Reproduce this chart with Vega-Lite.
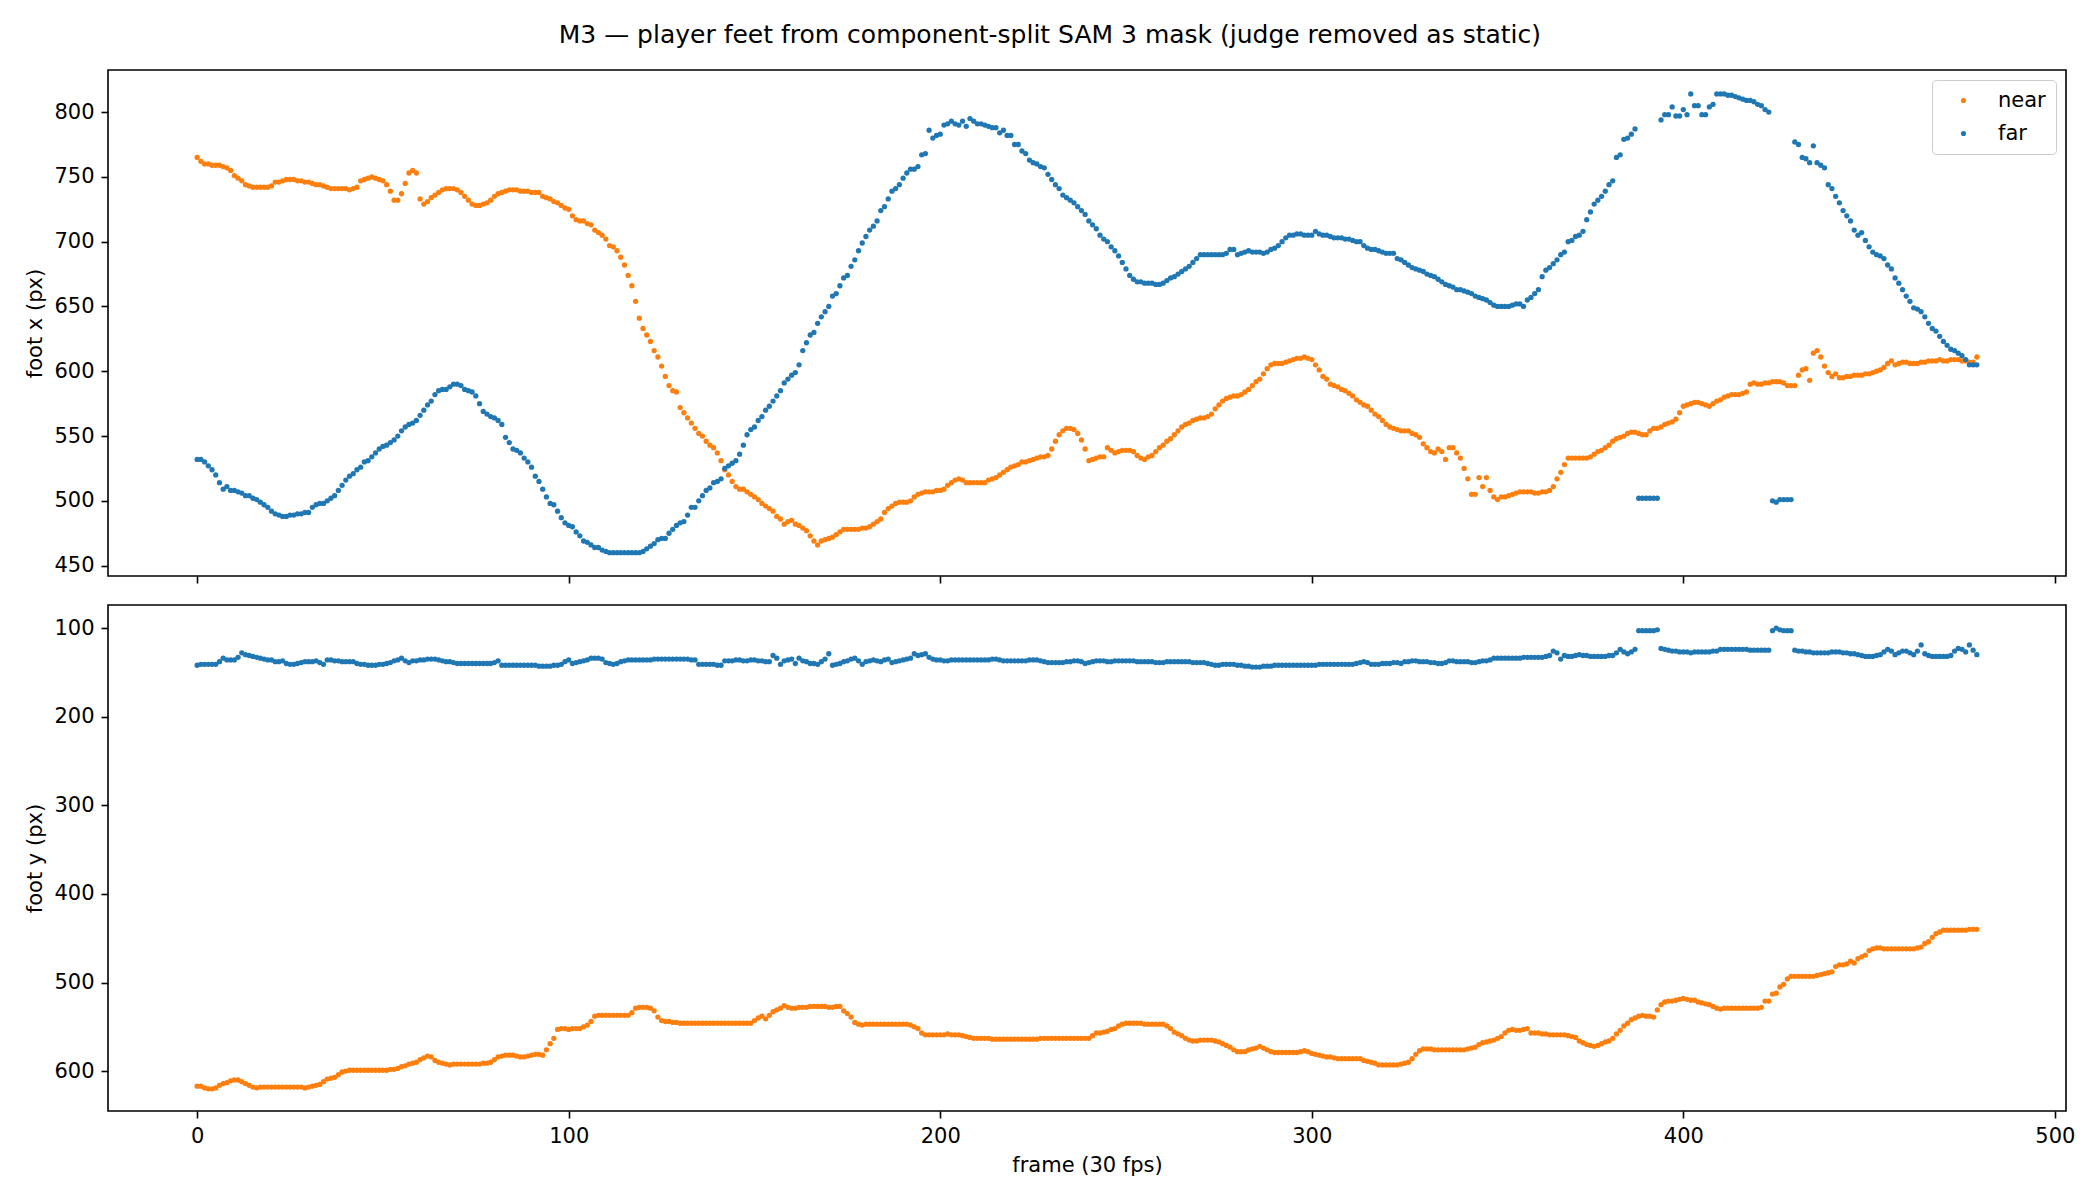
{
"$schema": "https://vega.github.io/schema/vega-lite/v6.json",
"padding": {"left": 24, "top": 23, "right": 34, "bottom": 10},
"title": {"text": "M3 — player feet from component-split SAM 3 mask (judge removed as static)", "fontSize": 25, "fontWeight": "normal", "color": "black", "anchor": "middle", "offset": 21},
"config": {
  "font": "DejaVu Sans",
  "view": {"stroke": "black", "strokeWidth": 1.6},
  "axis": {"grid": false, "domain": false, "tickColor": "black", "tickWidth": 1.6, "tickSize": 7, "labelPadding": 7, "labelFontSize": 21, "labelColor": "black", "titleFontSize": 21, "titleColor": "black", "titleFontWeight": "normal", "titlePadding": 8}
},
"spacing": 19,
"resolve": {"scale": {"color": "independent"}, "legend": {"color": "independent"}},
"datasets": {
"footx": [
{"f":0,"near":765,"far":532},{"f":1,"near":762,"far":532},{"f":2,"near":760,"far":530},{"f":3,"near":760,"far":527},{"f":4,"near":759,"far":524},{"f":5,"near":759,"far":520},{"f":6,"near":759,"far":514},{"f":7,"near":758,"far":509},{"f":8,"near":757,"far":511},{"f":9,"near":755,"far":508},
{"f":10,"near":751,"far":508},{"f":11,"near":749,"far":507},{"f":12,"near":747,"far":506},{"f":13,"near":744,"far":504},{"f":14,"near":743,"far":504},{"f":15,"near":742,"far":502},{"f":16,"near":742,"far":501},{"f":17,"near":742,"far":499},{"f":18,"near":742,"far":497},{"f":19,"near":742,"far":495},
{"f":20,"near":743,"far":492},{"f":21,"near":746,"far":490},{"f":22,"near":746,"far":489},{"f":23,"near":747,"far":488},{"f":24,"near":748,"far":488},{"f":25,"near":748,"far":489},{"f":26,"near":748,"far":489},{"f":27,"near":747,"far":490},{"f":28,"near":747,"far":490},{"f":29,"near":746,"far":491},
{"f":30,"near":746,"far":491},{"f":31,"near":745,"far":495},{"f":32,"near":744,"far":497},{"f":33,"near":744,"far":498},{"f":34,"near":743,"far":498},{"f":35,"near":742,"far":500},{"f":36,"near":741,"far":502},{"f":37,"near":741,"far":504},{"f":38,"near":741,"far":508},{"f":39,"near":741,"far":512},
{"f":40,"near":741,"far":516},{"f":41,"near":740,"far":519},{"f":42,"near":741,"far":521},{"f":43,"near":742,"far":524},{"f":44,"near":747,"far":526},{"f":45,"near":748,"far":530},{"f":46,"near":749,"far":531},{"f":47,"near":750,"far":534},{"f":48,"near":749,"far":537},{"f":49,"near":748,"far":540},
{"f":50,"near":747,"far":542},{"f":51,"near":744,"far":543},{"f":52,"near":739,"far":545},{"f":53,"near":732,"far":547},{"f":54,"near":732,"far":550},{"f":55,"near":737,"far":554},{"f":56,"near":745,"far":557},{"f":57,"near":753,"far":559},{"f":58,"near":755,"far":560},{"f":59,"near":753,"far":562},
{"f":60,"near":733,"far":566},{"f":61,"near":729,"far":570},{"f":62,"near":731,"far":574},{"f":63,"near":734,"far":577},{"f":64,"near":736,"far":582},{"f":65,"near":738,"far":585},{"f":66,"near":740,"far":586},{"f":67,"near":741,"far":586},{"f":68,"near":741,"far":588},{"f":69,"near":741,"far":590},
{"f":70,"near":740,"far":590},{"f":71,"near":738,"far":589},{"f":72,"near":735,"far":586},{"f":73,"near":732,"far":585},{"f":74,"near":729,"far":584},{"f":75,"near":728,"far":581},{"f":76,"near":728,"far":575},{"f":77,"near":729,"far":569},{"f":78,"near":730,"far":567},{"f":79,"near":732,"far":565},
{"f":80,"near":735,"far":564},{"f":81,"near":737,"far":562},{"f":82,"near":738,"far":559},{"f":83,"near":739,"far":549},{"f":84,"near":740,"far":545},{"f":85,"near":740,"far":540},{"f":86,"near":740,"far":539},{"f":87,"near":739,"far":537},{"f":88,"near":739,"far":533},{"f":89,"near":739,"far":530},
{"f":90,"near":738,"far":526},{"f":91,"near":738,"far":519},{"f":92,"near":738,"far":515},{"f":93,"near":735,"far":509},{"f":94,"near":734,"far":503},{"f":95,"near":733,"far":498},{"f":96,"near":731,"far":497},{"f":97,"near":730,"far":492},{"f":98,"near":728,"far":487},{"f":99,"near":726,"far":483},
{"f":100,"near":725,"far":481},{"f":101,"near":720,"far":480},{"f":102,"near":717,"far":476},{"f":103,"near":716,"far":473},{"f":104,"near":716,"far":469},{"f":105,"near":714,"far":468},{"f":106,"near":713,"far":466},{"f":107,"near":709,"far":464},{"f":108,"near":707,"far":464},{"f":109,"near":705,"far":462},
{"f":110,"near":702,"far":461},{"f":111,"near":697,"far":460},{"f":112,"near":696,"far":460},{"f":113,"near":693,"far":460},{"f":114,"near":688,"far":460},{"f":115,"near":682,"far":460},{"f":116,"near":674,"far":460},{"f":117,"near":666,"far":460},{"f":118,"near":654,"far":460},{"f":119,"near":641,"far":460},
{"f":120,"near":633,"far":461},{"f":121,"near":628,"far":463},{"f":122,"near":623,"far":465},{"f":123,"near":616,"far":467},{"f":124,"near":611,"far":470},{"f":125,"near":604,"far":471},{"f":126,"near":596,"far":471},{"f":127,"near":589,"far":475},{"f":128,"near":585,"far":478},{"f":129,"near":584,"far":481},
{"f":130,"near":572,"far":483},{"f":131,"near":568,"far":484},{"f":132,"near":564,"far":489},{"f":133,"near":560,"far":495},{"f":134,"near":556,"far":495},{"f":135,"near":552,"far":500},{"f":136,"near":550,"far":504},{"f":137,"near":546,"far":508},{"f":138,"near":543,"far":510},{"f":139,"near":541,"far":514},
{"f":140,"near":537,"far":515},{"f":141,"near":531,"far":517},{"f":142,"near":524,"far":525},{"f":143,"near":520,"far":527},{"f":144,"near":515,"far":529},{"f":145,"near":511,"far":531},{"f":146,"near":509,"far":536},{"f":147,"near":509,"far":543},{"f":148,"near":507,"far":551},{"f":149,"near":505,"far":555},
{"f":150,"near":503,"far":557},{"f":151,"near":501,"far":562},{"f":152,"near":498,"far":565},{"f":153,"near":496,"far":570},{"f":154,"near":494,"far":573},{"f":155,"near":492,"far":577},{"f":156,"near":488,"far":581},{"f":157,"near":486,"far":585},{"f":158,"near":482,"far":591},{"f":159,"near":484,"far":594},
{"f":160,"near":485,"far":597},{"f":161,"near":482,"far":599},{"f":162,"near":481,"far":605},{"f":163,"near":479,"far":616},{"f":164,"near":477,"far":622},{"f":165,"near":473,"far":628},{"f":166,"near":469,"far":630},{"f":167,"near":466,"far":637},{"f":168,"near":469,"far":642},{"f":169,"near":470,"far":646},
{"f":170,"near":471,"far":650},{"f":171,"near":472,"far":658},{"f":172,"near":474,"far":660},{"f":173,"near":476,"far":666},{"f":174,"near":478,"far":672},{"f":175,"near":478,"far":674},{"f":176,"near":478,"far":681},{"f":177,"near":478,"far":686},{"f":178,"near":478,"far":693},{"f":179,"near":479,"far":699},
{"f":180,"near":479,"far":704},{"f":181,"near":480,"far":709},{"f":182,"near":482,"far":712},{"f":183,"near":484,"far":716},{"f":184,"near":486,"far":724},{"f":185,"near":491,"far":727},{"f":186,"near":494,"far":733},{"f":187,"near":496,"far":739},{"f":188,"near":498,"far":741},{"f":189,"near":499,"far":744},
{"f":190,"near":499,"far":749},{"f":191,"near":499,"far":753},{"f":192,"near":500,"far":756},{"f":193,"near":503,"far":756},{"f":194,"near":505,"far":758},{"f":195,"near":506,"far":767},{"f":196,"near":507,"far":768},{"f":197,"near":507,"far":786},{"f":198,"near":507,"far":780},{"f":199,"near":508,"far":782},
{"f":200,"near":508,"far":783},{"f":201,"near":509,"far":790},{"f":202,"near":512,"far":791},{"f":203,"near":514,"far":793},{"f":204,"near":516,"far":791},{"f":205,"near":517,"far":790},{"f":206,"near":516,"far":793},{"f":207,"near":514,"far":789},{"f":208,"near":514,"far":795},{"f":209,"near":514,"far":793},
{"f":210,"near":514,"far":791},{"f":211,"near":514,"far":791},{"f":212,"near":514,"far":790},{"f":213,"near":516,"far":789},{"f":214,"near":517,"far":788},{"f":215,"near":518,"far":788},{"f":216,"near":520,"far":784},{"f":217,"near":522,"far":786},{"f":218,"near":524,"far":782},{"f":219,"near":526,"far":782},
{"f":220,"near":527,"far":775},{"f":221,"near":528,"far":775},{"f":222,"near":530,"far":770},{"f":223,"near":530,"far":768},{"f":224,"near":531,"far":763},{"f":225,"near":532,"far":761},{"f":226,"near":533,"far":760},{"f":227,"near":534,"far":758},{"f":228,"near":534,"far":757},{"f":229,"near":535,"far":752},
{"f":230,"near":540,"far":748},{"f":231,"near":546,"far":744},{"f":232,"near":551,"far":741},{"f":233,"near":554,"far":736},{"f":234,"near":556,"far":734},{"f":235,"near":556,"far":732},{"f":236,"near":555,"far":730},{"f":237,"near":552,"far":727},{"f":238,"near":547,"far":724},{"f":239,"near":540,"far":721},
{"f":240,"near":531,"far":716},{"f":241,"near":532,"far":713},{"f":242,"near":533,"far":710},{"f":243,"near":534,"far":705},{"f":244,"near":534,"far":702},{"f":245,"near":541,"far":700},{"f":246,"near":539,"far":696},{"f":247,"near":537,"far":693},{"f":248,"near":538,"far":689},{"f":249,"near":539,"far":684},
{"f":250,"near":539,"far":679},{"f":251,"near":539,"far":674},{"f":252,"near":538,"far":671},{"f":253,"near":535,"far":669},{"f":254,"near":533,"far":669},{"f":255,"near":532,"far":668},{"f":256,"near":534,"far":668},{"f":257,"near":535,"far":668},{"f":258,"near":538,"far":667},{"f":259,"near":541,"far":667},
{"f":260,"near":543,"far":668},{"f":261,"near":546,"far":670},{"f":262,"near":548,"far":672},{"f":263,"near":551,"far":673},{"f":264,"near":554,"far":675},{"f":265,"near":557,"far":677},{"f":266,"near":559,"far":679},{"f":267,"near":560,"far":681},{"f":268,"near":562,"far":684},{"f":269,"near":563,"far":687},
{"f":270,"near":564,"far":690},{"f":271,"near":564,"far":690},{"f":272,"near":565,"far":690},{"f":273,"near":567,"far":690},{"f":274,"near":571,"far":690},{"f":275,"near":574,"far":690},{"f":276,"near":577,"far":690},{"f":277,"near":579,"far":691},{"f":278,"near":580,"far":694},{"f":279,"near":581,"far":694},
{"f":280,"near":581,"far":690},{"f":281,"near":582,"far":691},{"f":282,"near":584,"far":692},{"f":283,"near":586,"far":693},{"f":284,"near":589,"far":692},{"f":285,"near":592,"far":692},{"f":286,"near":594,"far":692},{"f":287,"near":598,"far":691},{"f":288,"near":602,"far":692},{"f":289,"near":605,"far":694},
{"f":290,"near":606,"far":695},{"f":291,"near":606,"far":697},{"f":292,"near":606,"far":700},{"f":293,"near":607,"far":703},{"f":294,"near":608,"far":705},{"f":295,"near":609,"far":705},{"f":296,"near":610,"far":706},{"f":297,"near":610,"far":706},{"f":298,"near":611,"far":705},{"f":299,"near":610,"far":705},
{"f":300,"near":609,"far":705},{"f":301,"near":605,"far":708},{"f":302,"near":601,"far":706},{"f":303,"near":596,"far":705},{"f":304,"near":594,"far":705},{"f":305,"near":590,"far":704},{"f":306,"near":589,"far":703},{"f":307,"near":588,"far":703},{"f":308,"near":586,"far":703},{"f":309,"near":585,"far":702},
{"f":310,"near":583,"far":702},{"f":311,"near":581,"far":701},{"f":312,"near":578,"far":700},{"f":313,"near":576,"far":700},{"f":314,"near":574,"far":697},{"f":315,"near":573,"far":695},{"f":316,"near":570,"far":694},{"f":317,"near":567,"far":694},{"f":318,"near":565,"far":693},{"f":319,"near":562,"far":692},
{"f":320,"near":559,"far":691},{"f":321,"near":557,"far":691},{"f":322,"near":556,"far":691},{"f":323,"near":555,"far":687},{"f":324,"near":554,"far":686},{"f":325,"near":554,"far":684},{"f":326,"near":554,"far":682},{"f":327,"near":552,"far":680},{"f":328,"near":551,"far":679},{"f":329,"near":549,"far":678},
{"f":330,"near":544,"far":677},{"f":331,"near":541,"far":675},{"f":332,"near":538,"far":674},{"f":333,"near":537,"far":673},{"f":334,"near":540,"far":671},{"f":335,"near":538,"far":669},{"f":336,"near":532,"far":667},{"f":337,"near":541,"far":666},{"f":338,"near":541,"far":665},{"f":339,"near":537,"far":663},
{"f":340,"near":533,"far":663},{"f":341,"near":525,"far":662},{"f":342,"near":517,"far":661},{"f":343,"near":505,"far":660},{"f":344,"near":505,"far":658},{"f":345,"near":518,"far":657},{"f":346,"near":511,"far":656},{"f":347,"near":518,"far":655},{"f":348,"near":508,"far":653},{"f":349,"near":503,"far":651},
{"f":350,"near":501,"far":650},{"f":351,"near":503,"far":650},{"f":352,"near":503,"far":650},{"f":353,"near":504,"far":650},{"f":354,"near":505,"far":651},{"f":355,"near":506,"far":652},{"f":356,"near":507,"far":652},{"f":357,"near":507,"far":650},{"f":358,"near":507,"far":655},{"f":359,"near":507,"far":657},
{"f":360,"near":506,"far":660},{"f":361,"near":506,"far":663},{"f":362,"near":507,"far":673},{"f":363,"near":507,"far":678},{"f":364,"near":508,"far":680},{"f":365,"near":511,"far":683},{"f":366,"near":517,"far":686},{"f":367,"near":522,"far":690},{"f":368,"near":528,"far":692},{"f":369,"near":533,"far":700},
{"f":370,"near":533,"far":701},{"f":371,"near":533,"far":704},{"f":372,"near":533,"far":705},{"f":373,"near":533,"far":708},{"f":374,"near":533,"far":717},{"f":375,"near":534,"far":723},{"f":376,"near":536,"far":729},{"f":377,"near":538,"far":732},{"f":378,"near":539,"far":735},{"f":379,"near":541,"far":739},
{"f":380,"near":543,"far":744},{"f":381,"near":546,"far":747},{"f":382,"near":548,"far":765},{"f":383,"near":549,"far":767},{"f":384,"near":550,"far":779},{"f":385,"near":552,"far":780},{"f":386,"near":553,"far":783},{"f":387,"near":553,"far":787},{"f":388,"near":552,"far":502},{"f":389,"near":551,"far":502},
{"f":390,"near":551,"far":502},{"f":391,"near":554,"far":502},{"f":392,"near":556,"far":502},{"f":393,"near":556,"far":502},{"f":394,"near":557,"far":794},{"f":395,"near":559,"far":798},{"f":396,"near":560,"far":798},{"f":397,"near":561,"far":804},{"f":398,"near":563,"far":797},{"f":399,"near":568,"far":797},
{"f":400,"near":573,"far":802},{"f":401,"near":574,"far":798},{"f":402,"near":575,"far":814},{"f":403,"near":576,"far":805},{"f":404,"near":576,"far":805},{"f":405,"near":575,"far":798},{"f":406,"near":574,"far":798},{"f":407,"near":573,"far":804},{"f":408,"near":575,"far":806},{"f":409,"near":577,"far":814},
{"f":410,"near":578,"far":814},{"f":411,"near":580,"far":814},{"f":412,"near":581,"far":813},{"f":413,"near":582,"far":813},{"f":414,"near":582,"far":812},{"f":415,"near":582,"far":811},{"f":416,"near":583,"far":810},{"f":417,"near":584,"far":809},{"f":418,"near":590,"far":809},{"f":419,"near":591,"far":808},
{"f":420,"near":590,"far":806},{"f":421,"near":590,"far":805},{"f":422,"near":591,"far":802},{"f":423,"near":591,"far":800},{"f":424,"near":592,"far":500},{"f":425,"near":592,"far":499},{"f":426,"near":592,"far":501},{"f":427,"near":591,"far":501},{"f":428,"near":589,"far":501},{"f":429,"near":589,"far":501},
{"f":430,"near":589,"far":777},{"f":431,"near":597,"far":775},{"f":432,"near":601,"far":765},{"f":433,"near":602,"far":764},{"f":434,"near":593,"far":761},{"f":435,"near":614,"far":774},{"f":436,"near":616,"far":761},{"f":437,"near":611,"far":759},{"f":438,"near":604,"far":757},{"f":439,"near":599,"far":744},
{"f":440,"near":596,"far":741},{"f":441,"near":598,"far":735},{"f":442,"near":595,"far":730},{"f":443,"near":595,"far":724},{"f":444,"near":596,"far":720},{"f":445,"near":596,"far":716},{"f":446,"near":597,"far":709},{"f":447,"near":597,"far":705},{"f":448,"near":597,"far":707},{"f":449,"near":598,"far":701},
{"f":450,"near":598,"far":696},{"f":451,"near":599,"far":692},{"f":452,"near":600,"far":690},{"f":453,"near":601,"far":689},{"f":454,"near":603,"far":687},{"f":455,"near":606,"far":682},{"f":456,"near":608,"far":679},{"f":457,"near":605,"far":672},{"f":458,"near":606,"far":668},{"f":459,"near":607,"far":663},
{"f":460,"near":607,"far":658},{"f":461,"near":606,"far":654},{"f":462,"near":606,"far":649},{"f":463,"near":606,"far":648},{"f":464,"near":607,"far":646},{"f":465,"near":607,"far":642},{"f":466,"near":608,"far":637},{"f":467,"near":608,"far":633},{"f":468,"near":608,"far":631},{"f":469,"near":609,"far":627},
{"f":470,"near":608,"far":623},{"f":471,"near":608,"far":620},{"f":472,"near":609,"far":617},{"f":473,"near":609,"far":616},{"f":474,"near":609,"far":614},{"f":475,"near":608,"far":612},{"f":476,"near":608,"far":609},{"f":477,"near":607,"far":605},{"f":478,"near":607,"far":605},{"f":479,"near":611,"far":605}
],
"footy": [
{"f":0,"near":617,"far":142},{"f":1,"near":617,"far":141},{"f":2,"near":619,"far":141},{"f":3,"near":620,"far":141},{"f":4,"near":620,"far":141},{"f":5,"near":619,"far":141},{"f":6,"near":616,"far":138},{"f":7,"near":614,"far":134},{"f":8,"near":613,"far":136},{"f":9,"near":611,"far":136},
{"f":10,"near":610,"far":136},{"f":11,"near":610,"far":133},{"f":12,"near":612,"far":128},{"f":13,"near":614,"far":130},{"f":14,"near":616,"far":131},{"f":15,"near":618,"far":132},{"f":16,"near":619,"far":133},{"f":17,"near":618,"far":134},{"f":18,"near":618,"far":135},{"f":19,"near":618,"far":136},
{"f":20,"near":618,"far":136},{"f":21,"near":618,"far":138},{"f":22,"near":618,"far":138},{"f":23,"near":618,"far":137},{"f":24,"near":618,"far":140},{"f":25,"near":618,"far":141},{"f":26,"near":618,"far":141},{"f":27,"near":618,"far":140},{"f":28,"near":618,"far":139},{"f":29,"near":619,"far":138},
{"f":30,"near":618,"far":138},{"f":31,"near":617,"far":138},{"f":32,"near":616,"far":137},{"f":33,"near":615,"far":139},{"f":34,"near":612,"far":141},{"f":35,"near":609,"far":136},{"f":36,"near":608,"far":136},{"f":37,"near":607,"far":137},{"f":38,"near":604,"far":137},{"f":39,"near":601,"far":138},
{"f":40,"near":600,"far":138},{"f":41,"near":599,"far":138},{"f":42,"near":599,"far":138},{"f":43,"near":599,"far":140},{"f":44,"near":599,"far":141},{"f":45,"near":599,"far":141},{"f":46,"near":599,"far":142},{"f":47,"near":599,"far":142},{"f":48,"near":599,"far":142},{"f":49,"near":599,"far":141},
{"f":50,"near":599,"far":141},{"f":51,"near":599,"far":140},{"f":52,"near":598,"far":139},{"f":53,"near":598,"far":137},{"f":54,"near":597,"far":136},{"f":55,"near":595,"far":134},{"f":56,"near":594,"far":137},{"f":57,"near":592,"far":139},{"f":58,"near":591,"far":137},{"f":59,"near":590,"far":137},
{"f":60,"near":587,"far":136},{"f":61,"near":585,"far":136},{"f":62,"near":583,"far":135},{"f":63,"near":584,"far":135},{"f":64,"near":588,"far":135},{"f":65,"near":590,"far":136},{"f":66,"near":591,"far":137},{"f":67,"near":592,"far":138},{"f":68,"near":593,"far":138},{"f":69,"near":592,"far":139},
{"f":70,"near":592,"far":140},{"f":71,"near":592,"far":140},{"f":72,"near":592,"far":140},{"f":73,"near":592,"far":140},{"f":74,"near":592,"far":140},{"f":75,"near":592,"far":140},{"f":76,"near":592,"far":140},{"f":77,"near":591,"far":140},{"f":78,"near":591,"far":140},{"f":79,"near":590,"far":140},
{"f":80,"near":587,"far":139},{"f":81,"near":584,"far":137},{"f":82,"near":583,"far":142},{"f":83,"near":582,"far":142},{"f":84,"near":582,"far":142},{"f":85,"near":582,"far":142},{"f":86,"near":583,"far":142},{"f":87,"near":584,"far":142},{"f":88,"near":584,"far":142},{"f":89,"near":583,"far":142},
{"f":90,"near":582,"far":142},{"f":91,"near":581,"far":142},{"f":92,"near":581,"far":143},{"f":93,"near":582,"far":143},{"f":94,"near":576,"far":143},{"f":95,"near":569,"far":143},{"f":96,"near":563,"far":142},{"f":97,"near":553,"far":142},{"f":98,"near":552,"far":141},{"f":99,"near":552,"far":138},
{"f":100,"near":553,"far":136},{"f":101,"near":552,"far":140},{"f":102,"near":552,"far":139},{"f":103,"near":552,"far":138},{"f":104,"near":550,"far":137},{"f":105,"near":548,"far":136},{"f":106,"near":544,"far":134},{"f":107,"near":538,"far":134},{"f":108,"near":537,"far":134},{"f":109,"near":537,"far":135},
{"f":110,"near":537,"far":139},{"f":111,"near":537,"far":140},{"f":112,"near":537,"far":141},{"f":113,"near":537,"far":140},{"f":114,"near":537,"far":138},{"f":115,"near":537,"far":137},{"f":116,"near":537,"far":136},{"f":117,"near":534,"far":136},{"f":118,"near":529,"far":136},{"f":119,"near":528,"far":136},
{"f":120,"near":528,"far":136},{"f":121,"near":528,"far":136},{"f":122,"near":529,"far":136},{"f":123,"near":532,"far":135},{"f":124,"near":539,"far":135},{"f":125,"near":543,"far":135},{"f":126,"near":544,"far":135},{"f":127,"near":544,"far":135},{"f":128,"near":545,"far":135},{"f":129,"near":545,"far":135},
{"f":130,"near":546,"far":135},{"f":131,"near":546,"far":135},{"f":132,"near":546,"far":135},{"f":133,"near":546,"far":136},{"f":134,"near":546,"far":136},{"f":135,"near":546,"far":141},{"f":136,"near":546,"far":141},{"f":137,"near":546,"far":141},{"f":138,"near":546,"far":141},{"f":139,"near":546,"far":141},
{"f":140,"near":546,"far":142},{"f":141,"near":546,"far":142},{"f":142,"near":546,"far":137},{"f":143,"near":546,"far":137},{"f":144,"near":546,"far":137},{"f":145,"near":546,"far":136},{"f":146,"near":546,"far":136},{"f":147,"near":546,"far":137},{"f":148,"near":546,"far":137},{"f":149,"near":546,"far":136},
{"f":150,"near":543,"far":136},{"f":151,"near":540,"far":137},{"f":152,"near":538,"far":137},{"f":153,"near":541,"far":138},{"f":154,"near":537,"far":138},{"f":155,"near":533,"far":131},{"f":156,"near":531,"far":134},{"f":157,"near":529,"far":141},{"f":158,"near":526,"far":137},{"f":159,"near":528,"far":136},
{"f":160,"near":529,"far":135},{"f":161,"near":529,"far":140},{"f":162,"near":528,"far":134},{"f":163,"near":528,"far":137},{"f":164,"near":528,"far":138},{"f":165,"near":527,"far":140},{"f":166,"near":527,"far":140},{"f":167,"near":527,"far":141},{"f":168,"near":527,"far":138},{"f":169,"near":527,"far":135},
{"f":170,"near":528,"far":129},{"f":171,"near":528,"far":142},{"f":172,"near":527,"far":141},{"f":173,"near":527,"far":140},{"f":174,"near":532,"far":138},{"f":175,"near":535,"far":137},{"f":176,"near":539,"far":135},{"f":177,"near":545,"far":134},{"f":178,"near":547,"far":137},{"f":179,"near":548,"far":141},
{"f":180,"near":547,"far":138},{"f":181,"near":547,"far":137},{"f":182,"near":547,"far":136},{"f":183,"near":547,"far":137},{"f":184,"near":547,"far":138},{"f":185,"near":547,"far":136},{"f":186,"near":547,"far":135},{"f":187,"near":547,"far":139},{"f":188,"near":547,"far":138},{"f":189,"near":547,"far":137},
{"f":190,"near":547,"far":136},{"f":191,"near":547,"far":135},{"f":192,"near":548,"far":134},{"f":193,"near":550,"far":129},{"f":194,"near":552,"far":131},{"f":195,"near":557,"far":130},{"f":196,"near":559,"far":129},{"f":197,"near":559,"far":133},{"f":198,"near":559,"far":135},{"f":199,"near":559,"far":136},
{"f":200,"near":559,"far":136},{"f":201,"near":559,"far":137},{"f":202,"near":558,"far":137},{"f":203,"near":559,"far":136},{"f":204,"near":559,"far":136},{"f":205,"near":559,"far":136},{"f":206,"near":560,"far":136},{"f":207,"near":561,"far":136},{"f":208,"near":562,"far":136},{"f":209,"near":563,"far":136},
{"f":210,"near":563,"far":136},{"f":211,"near":563,"far":136},{"f":212,"near":563,"far":136},{"f":213,"near":563,"far":136},{"f":214,"near":564,"far":135},{"f":215,"near":564,"far":135},{"f":216,"near":564,"far":136},{"f":217,"near":564,"far":137},{"f":218,"near":564,"far":137},{"f":219,"near":564,"far":137},
{"f":220,"near":564,"far":137},{"f":221,"near":564,"far":137},{"f":222,"near":564,"far":137},{"f":223,"near":564,"far":137},{"f":224,"near":564,"far":136},{"f":225,"near":564,"far":136},{"f":226,"near":564,"far":136},{"f":227,"near":563,"far":137},{"f":228,"near":563,"far":138},{"f":229,"near":563,"far":139},
{"f":230,"near":563,"far":139},{"f":231,"near":563,"far":139},{"f":232,"near":563,"far":139},{"f":233,"near":563,"far":139},{"f":234,"near":563,"far":138},{"f":235,"near":563,"far":138},{"f":236,"near":563,"far":137},{"f":237,"near":563,"far":137},{"f":238,"near":563,"far":138},{"f":239,"near":563,"far":140},
{"f":240,"near":563,"far":139},{"f":241,"near":560,"far":138},{"f":242,"near":557,"far":137},{"f":243,"near":557,"far":137},{"f":244,"near":556,"far":137},{"f":245,"near":555,"far":138},{"f":246,"near":553,"far":138},{"f":247,"near":552,"far":137},{"f":248,"near":549,"far":137},{"f":249,"near":547,"far":137},
{"f":250,"near":546,"far":137},{"f":251,"near":546,"far":137},{"f":252,"near":546,"far":137},{"f":253,"near":546,"far":138},{"f":254,"near":546,"far":138},{"f":255,"near":547,"far":138},{"f":256,"near":547,"far":138},{"f":257,"near":547,"far":138},{"f":258,"near":547,"far":139},{"f":259,"near":547,"far":139},
{"f":260,"near":547,"far":139},{"f":261,"near":549,"far":138},{"f":262,"near":552,"far":138},{"f":263,"near":556,"far":138},{"f":264,"near":558,"far":138},{"f":265,"near":560,"far":138},{"f":266,"near":563,"far":138},{"f":267,"near":565,"far":138},{"f":268,"near":566,"far":139},{"f":269,"near":566,"far":139},
{"f":270,"near":565,"far":139},{"f":271,"near":565,"far":139},{"f":272,"near":565,"far":140},{"f":273,"near":565,"far":141},{"f":274,"near":566,"far":142},{"f":275,"near":567,"far":142},{"f":276,"near":569,"far":141},{"f":277,"near":571,"far":141},{"f":278,"near":573,"far":141},{"f":279,"near":576,"far":141},
{"f":280,"near":578,"far":142},{"f":281,"near":578,"far":142},{"f":282,"near":578,"far":143},{"f":283,"near":576,"far":143},{"f":284,"near":575,"far":144},{"f":285,"near":574,"far":144},{"f":286,"near":572,"far":144},{"f":287,"near":574,"far":143},{"f":288,"near":576,"far":143},{"f":289,"near":578,"far":143},
{"f":290,"near":579,"far":142},{"f":291,"near":579,"far":142},{"f":292,"near":579,"far":142},{"f":293,"near":579,"far":142},{"f":294,"near":579,"far":142},{"f":295,"near":579,"far":142},{"f":296,"near":579,"far":142},{"f":297,"near":578,"far":142},{"f":298,"near":577,"far":142},{"f":299,"near":578,"far":142},
{"f":300,"near":580,"far":142},{"f":301,"near":581,"far":142},{"f":302,"near":582,"far":141},{"f":303,"near":583,"far":141},{"f":304,"near":584,"far":141},{"f":305,"near":584,"far":141},{"f":306,"near":585,"far":141},{"f":307,"near":586,"far":141},{"f":308,"near":586,"far":141},{"f":309,"near":586,"far":141},
{"f":310,"near":586,"far":141},{"f":311,"near":586,"far":141},{"f":312,"near":586,"far":140},{"f":313,"near":586,"far":139},{"f":314,"near":588,"far":138},{"f":315,"near":589,"far":139},{"f":316,"near":590,"far":141},{"f":317,"near":591,"far":141},{"f":318,"near":593,"far":141},{"f":319,"near":593,"far":140},
{"f":320,"near":593,"far":140},{"f":321,"near":593,"far":140},{"f":322,"near":593,"far":139},{"f":323,"near":593,"far":139},{"f":324,"near":592,"far":140},{"f":325,"near":591,"far":138},{"f":326,"near":590,"far":138},{"f":327,"near":586,"far":137},{"f":328,"near":581,"far":137},{"f":329,"near":577,"far":138},
{"f":330,"near":575,"far":138},{"f":331,"near":575,"far":138},{"f":332,"near":575,"far":139},{"f":333,"near":576,"far":139},{"f":334,"near":576,"far":140},{"f":335,"near":576,"far":140},{"f":336,"near":576,"far":139},{"f":337,"near":576,"far":137},{"f":338,"near":576,"far":137},{"f":339,"near":576,"far":138},
{"f":340,"near":576,"far":138},{"f":341,"near":576,"far":138},{"f":342,"near":575,"far":138},{"f":343,"near":574,"far":139},{"f":344,"near":573,"far":139},{"f":345,"near":570,"far":138},{"f":346,"near":568,"far":137},{"f":347,"near":567,"far":137},{"f":348,"near":566,"far":136},{"f":349,"near":565,"far":134},
{"f":350,"near":563,"far":134},{"f":351,"near":561,"far":134},{"f":352,"near":557,"far":134},{"f":353,"near":554,"far":134},{"f":354,"near":553,"far":134},{"f":355,"near":554,"far":134},{"f":356,"near":554,"far":134},{"f":357,"near":553,"far":133},{"f":358,"near":552,"far":133},{"f":359,"near":557,"far":133},
{"f":360,"near":557,"far":133},{"f":361,"near":557,"far":133},{"f":362,"near":558,"far":133},{"f":363,"near":558,"far":132},{"f":364,"near":559,"far":131},{"f":365,"near":559,"far":126},{"f":366,"near":559,"far":128},{"f":367,"near":559,"far":135},{"f":368,"near":559,"far":131},{"f":369,"near":560,"far":132},
{"f":370,"near":561,"far":132},{"f":371,"near":562,"far":131},{"f":372,"near":566,"far":130},{"f":373,"near":568,"far":131},{"f":374,"near":570,"far":131},{"f":375,"near":571,"far":132},{"f":376,"near":572,"far":132},{"f":377,"near":571,"far":132},{"f":378,"near":569,"far":132},{"f":379,"near":567,"far":132},
{"f":380,"near":566,"far":131},{"f":381,"near":563,"far":131},{"f":382,"near":558,"far":128},{"f":383,"near":554,"far":124},{"f":384,"near":549,"far":127},{"f":385,"near":546,"far":129},{"f":386,"near":542,"far":127},{"f":387,"near":540,"far":124},{"f":388,"near":538,"far":103},{"f":389,"near":537,"far":103},
{"f":390,"near":538,"far":103},{"f":391,"near":538,"far":103},{"f":392,"near":539,"far":103},{"f":393,"near":531,"far":102},{"f":394,"near":525,"far":123},{"f":395,"near":522,"far":124},{"f":396,"near":521,"far":125},{"f":397,"near":521,"far":126},{"f":398,"near":520,"far":126},{"f":399,"near":519,"far":127},
{"f":400,"near":518,"far":127},{"f":401,"near":519,"far":127},{"f":402,"near":520,"far":128},{"f":403,"near":520,"far":127},{"f":404,"near":522,"far":127},{"f":405,"near":523,"far":127},{"f":406,"near":524,"far":127},{"f":407,"near":525,"far":127},{"f":408,"near":527,"far":126},{"f":409,"near":529,"far":126},
{"f":410,"near":530,"far":124},{"f":411,"near":529,"far":124},{"f":412,"near":529,"far":124},{"f":413,"near":529,"far":124},{"f":414,"near":529,"far":124},{"f":415,"near":529,"far":124},{"f":416,"near":529,"far":124},{"f":417,"near":529,"far":124},{"f":418,"near":529,"far":125},{"f":419,"near":529,"far":125},
{"f":420,"near":529,"far":125},{"f":421,"near":528,"far":125},{"f":422,"near":521,"far":125},{"f":423,"near":521,"far":125},{"f":424,"near":513,"far":103},{"f":425,"near":512,"far":100},{"f":426,"near":505,"far":102},{"f":427,"near":502,"far":103},{"f":428,"near":496,"far":103},{"f":429,"near":493,"far":103},
{"f":430,"near":493,"far":125},{"f":431,"near":493,"far":126},{"f":432,"near":493,"far":126},{"f":433,"near":493,"far":127},{"f":434,"near":493,"far":127},{"f":435,"near":493,"far":128},{"f":436,"near":492,"far":128},{"f":437,"near":491,"far":128},{"f":438,"near":490,"far":128},{"f":439,"near":489,"far":128},
{"f":440,"near":488,"far":127},{"f":441,"near":482,"far":127},{"f":442,"near":480,"far":127},{"f":443,"near":480,"far":128},{"f":444,"near":479,"far":128},{"f":445,"near":476,"far":129},{"f":446,"near":478,"far":129},{"f":447,"near":473,"far":130},{"f":448,"near":471,"far":131},{"f":449,"near":469,"far":132},
{"f":450,"near":464,"far":132},{"f":451,"near":462,"far":132},{"f":452,"near":461,"far":131},{"f":453,"near":461,"far":130},{"f":454,"near":462,"far":127},{"f":455,"near":462,"far":124},{"f":456,"near":462,"far":126},{"f":457,"near":462,"far":130},{"f":458,"near":462,"far":128},{"f":459,"near":462,"far":126},
{"f":460,"near":462,"far":126},{"f":461,"near":462,"far":128},{"f":462,"near":462,"far":130},{"f":463,"near":461,"far":126},{"f":464,"near":460,"far":119},{"f":465,"near":456,"far":129},{"f":466,"near":454,"far":131},{"f":467,"near":449,"far":132},{"f":468,"near":445,"far":132},{"f":469,"near":443,"far":132},
{"f":470,"near":441,"far":132},{"f":471,"near":441,"far":132},{"f":472,"near":441,"far":131},{"f":473,"near":441,"far":126},{"f":474,"near":441,"far":123},{"f":475,"near":441,"far":124},{"f":476,"near":441,"far":127},{"f":477,"near":440,"far":119},{"f":478,"near":440,"far":125},{"f":479,"near":440,"far":130}
]
},
"vconcat": [
{
  "width": 1958, "height": 506,
  "data": {"name": "footx"},
  "transform": [{"fold": ["near", "far"], "as": ["player", "px"]}],
  "mark": {"type": "circle", "size": 28, "opacity": 1},
  "encoding": {
    "x": {"field": "f", "type": "quantitative", "scale": {"domain": [-24, 503], "nice": false, "zero": false}, "axis": {"values": [0, 100, 200, 300, 400, 500], "labels": false, "title": null}},
    "y": {"field": "px", "type": "quantitative", "scale": {"domain": [442, 832.5], "nice": false, "zero": false}, "axis": {"values": [450, 500, 550, 600, 650, 700, 750, 800], "title": "foot x (px)"}},
    "color": {"field": "player", "type": "nominal", "scale": {"domain": ["near", "far"], "range": ["#ff7f0e", "#1f77b4"]},
      "legend": {"title": null, "orient": "top-right", "offset": 10, "padding": 10, "strokeColor": "#cccccc", "fillColor": "white", "cornerRadius": 4, "labelFontSize": 21, "labelColor": "black", "symbolSize": 26, "symbolType": "circle", "symbolOffset": 11, "labelOffset": 24, "rowPadding": 11, "symbolStrokeWidth": 0}},
    "order": {"field": "player", "sort": "descending"}
  }
},
{
  "width": 1958, "height": 506,
  "data": {"name": "footy"},
  "transform": [{"fold": ["near", "far"], "as": ["player", "py"]}],
  "mark": {"type": "circle", "size": 28, "opacity": 1},
  "encoding": {
    "x": {"field": "f", "type": "quantitative", "scale": {"domain": [-24, 503], "nice": false, "zero": false}, "axis": {"values": [0, 100, 200, 300, 400, 500], "title": "frame (30 fps)"}},
    "y": {"field": "py", "type": "quantitative", "scale": {"domain": [74, 645], "nice": false, "zero": false, "reverse": true}, "axis": {"values": [100, 200, 300, 400, 500, 600], "title": "foot y (px)"}},
    "color": {"field": "player", "type": "nominal", "scale": {"domain": ["near", "far"], "range": ["#ff7f0e", "#1f77b4"]}, "legend": null},
    "order": {"field": "player", "sort": "descending"}
  }
}
]
}
